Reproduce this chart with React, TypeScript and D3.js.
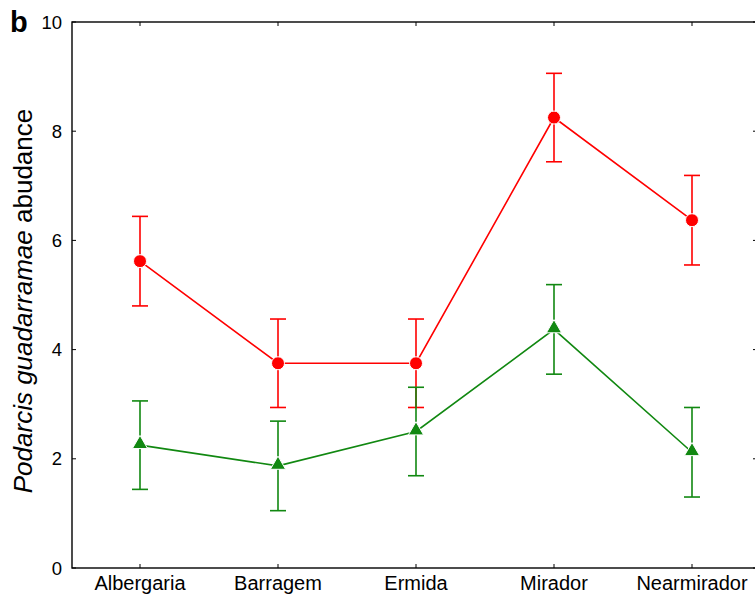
import React from "react";
import * as d3 from "d3";

const categories = ["Albergaria", "Barragem", "Ermida", "Mirador", "Nearmirador"];
const redMean = [5.62, 3.75, 3.75, 8.25, 6.37];
const redErr = [0.82, 0.81, 0.81, 0.81, 0.82];
const greenMean = [2.25, 1.87, 2.5, 4.37, 2.12];
const greenErr = [0.81, 0.82, 0.81, 0.82, 0.82];
const yTicks = [0, 2, 4, 6, 8, 10];

const W = 755, H = 601;
const left = 72, right = 757, top = 22, bottom = 568;

export default function App() {
  const x = d3.scalePoint<string>().domain(categories).range([140, 692]);
  const y = d3.scaleLinear().domain([0, 10]).range([bottom, top]);
  const line = d3.line<number>().x((_, i) => x(categories[i])!).y((d) => y(d));
  const font = "Liberation Sans, Arial, sans-serif";
  const red = "#ff0000";
  const green = "#118811";

  const errBars = (means: number[], errs: number[], color: string) =>
    means.map((m, i) => {
      const cx = x(categories[i])!;
      return (
        <g key={i} stroke={color} strokeWidth={1.6}>
          <line x1={cx} x2={cx} y1={y(m + errs[i])} y2={y(m - errs[i])} />
          <line x1={cx - 8} x2={cx + 8} y1={y(m + errs[i])} y2={y(m + errs[i])} />
          <line x1={cx - 8} x2={cx + 8} y1={y(m - errs[i])} y2={y(m - errs[i])} />
        </g>
      );
    });

  const tri = d3.symbol().type(d3.symbolTriangle).size(100)();

  return (
    <svg width={W} height={H} style={{ position: "absolute", left: 0, top: 0 }}>
      <rect width={W} height={H} fill="#fff" />
      <rect x={left} y={top} width={right - left} height={bottom - top} fill="none" stroke="#000" strokeWidth={1.4} />
      {yTicks.map((t) => (
        <g key={t}>
          <line x1={left} x2={left + 4} y1={y(t)} y2={y(t)} stroke="#000" strokeWidth={1} />
          <line x1={right - 4} x2={right} y1={y(t)} y2={y(t)} stroke="#000" strokeWidth={1} />
          <text x={62} y={y(t)} dy="0.36em" textAnchor="end" fontFamily={font} fontSize={18.5}>
            {t}
          </text>
        </g>
      ))}
      {categories.map((c) => (
        <g key={c}>
          <line x1={x(c)!} x2={x(c)!} y1={bottom} y2={bottom - 4} stroke="#000" strokeWidth={1} />
          <line x1={x(c)!} x2={x(c)!} y1={top} y2={top + 4} stroke="#000" strokeWidth={1} />
          <text x={x(c)!} y={590} textAnchor="middle" fontFamily={font} fontSize={20}>
            {c}
          </text>
        </g>
      ))}
      <path d={line(redMean)!} fill="none" stroke={red} strokeWidth={1.6} />
      <path d={line(greenMean)!} fill="none" stroke={green} strokeWidth={1.6} />
      {errBars(redMean, redErr, red)}
      {errBars(greenMean, greenErr, green)}
      {redMean.map((m, i) => (
        <circle key={i} cx={x(categories[i])!} cy={y(m)} r={6.5} fill={red} stroke="#fff" strokeWidth={1} />
      ))}
      {greenMean.map((m, i) => (
        <path key={i} d={tri!} transform={`translate(${x(categories[i])!},${y(m) - 1})`} fill={green} stroke="#fff" strokeWidth={1} />
      ))}
      <text x={10} y={32} fontFamily={font} fontSize={29} fontWeight="bold">b</text>
      <text transform={`translate(32,301) rotate(-90)`} textAnchor="middle" fontFamily={font} fontSize={26}>
        <tspan fontStyle="italic">Podarcis guadarramae</tspan>
        <tspan> abudance</tspan>
      </text>
    </svg>
  );
}
